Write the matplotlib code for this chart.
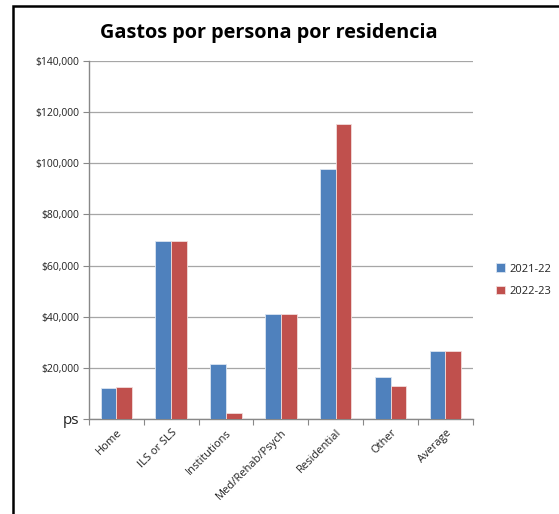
import numpy as np
import matplotlib.pyplot as plt
from matplotlib.patches import Rectangle
from matplotlib.ticker import FuncFormatter

plt.rcParams['font.family'] = ['Open Sans', 'DejaVu Sans']

categories = ["Home", "ILS or SLS", "Institutions", "Med/Rehab/Psych",
              "Residential", "Other", "Average"]
series_names = ["2021-22", "2022-23"]
values_2021 = [12100, 69500, 21600, 41100, 97900, 16400, 26600]
values_2022 = [12500, 69800, 2300, 41200, 115400, 13000, 26600]
colors = ["#4F81BD", "#C0504D"]
y_ticks = [0, 20000, 40000, 60000, 80000, 100000, 120000, 140000]

fig = plt.figure(figsize=(5.59, 5.14), dpi=100)
ax = fig.add_axes([0.159, 0.185, 0.687, 0.696])

x = np.arange(len(categories))
w = 0.286
ax.bar(x - w / 2, values_2021, w, color=colors[0], edgecolor="#dbe5f1",
       linewidth=0.6, label=series_names[0], zorder=3)
ax.bar(x + w / 2, values_2022, w, color=colors[1], edgecolor="#f2dcdb",
       linewidth=0.6, label=series_names[1], zorder=3)

ax.set_xlim(-0.5, len(categories) - 0.5)
ax.set_ylim(0, 140000)
ax.set_yticks(y_ticks)


def money(v, pos):
    if v == 0:
        return "ps"
    return f"${v:,.0f}"


ax.yaxis.set_major_formatter(FuncFormatter(money))
ax.grid(axis="y", color="#a6a6a6", linewidth=0.9, zorder=0)
ax.set_axisbelow(True)

ax.set_xticks(np.arange(len(categories) + 1) - 0.5)
ax.set_xticklabels([])
ax.set_xticks(x, minor=True)
ax.set_xticklabels(categories, minor=True, rotation=45, ha="right",
                   rotation_mode="anchor", fontsize=8, color="#222222")
ax.tick_params(axis="x", which="minor", length=0, pad=6)
ax.tick_params(axis="x", which="major", length=4, color="#888888")
ax.tick_params(axis="y", length=4, color="#888888", labelsize=7.5, pad=3,
               labelcolor="#222222")
for lab in ax.get_yticklabels():
    if lab.get_text() == "ps":
        lab.set_fontsize(11)

for s in ["top", "right"]:
    ax.spines[s].set_visible(False)
for s in ["left", "bottom"]:
    ax.spines[s].set_color("#888888")
    ax.spines[s].set_linewidth(1)

fig.text(0.48, 0.936, "Gastos por persona por residencia", ha="center",
         va="center", fontsize=14.3, fontweight="bold")

leg = fig.legend(loc="center left", bbox_to_anchor=(0.87, 0.455),
                 frameon=False, fontsize=8, handlelength=0.8,
                 handleheight=0.8, handletextpad=0.4, labelspacing=1.0)
for t in leg.get_texts():
    t.set_color("#222222")

# outer frame of the chart object
fig.patches.append(Rectangle((12.5 / 559, -0.05), 1.1, 1 - 5.5 / 514 + 0.05,
                             transform=fig.transFigure, fill=False,
                             edgecolor="black", linewidth=1.8))

fig.savefig("out.png", dpi=100)
